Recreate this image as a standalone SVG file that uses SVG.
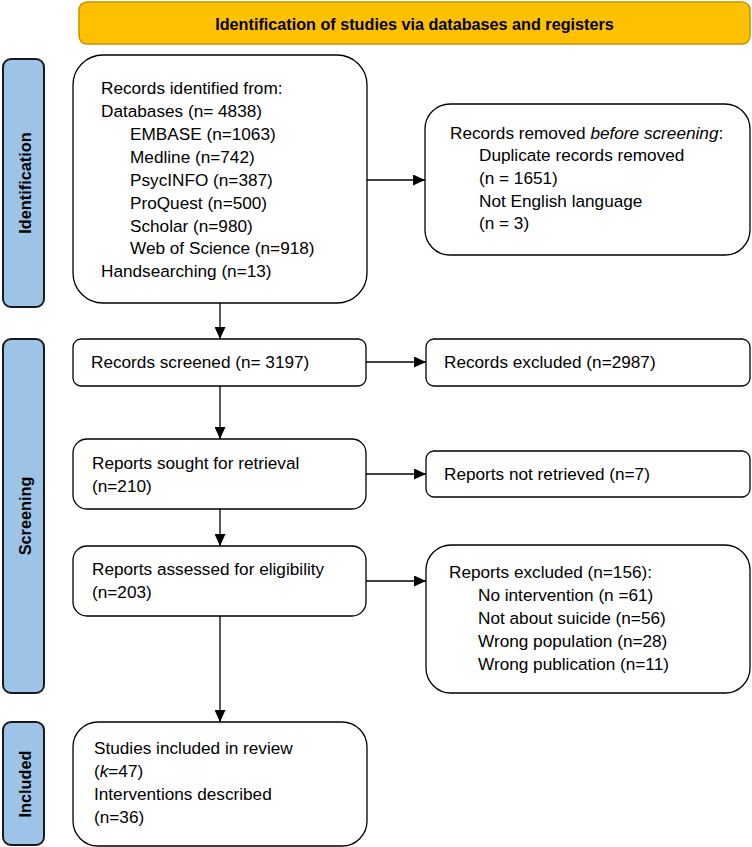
<svg xmlns="http://www.w3.org/2000/svg" width="752" height="847" viewBox="0 0 752 847">
<defs>
<marker id="ah" viewBox="0 0 12 11" refX="12" refY="5.5" markerWidth="12" markerHeight="11" markerUnits="userSpaceOnUse" orient="auto">
<path d="M0,0 L12,5.5 L0,11 Z" fill="#000"/>
</marker>
</defs>
<style>
text{font-family:"Liberation Sans",Arial,sans-serif;fill:#000}
.t{font-size:17.2px}
.hdr{font-size:16.2px;font-weight:bold}
.side{font-size:16.3px;font-weight:bold;text-anchor:middle}
.box{fill:#fff;stroke:#000;stroke-width:1.3}
.bar{fill:#9DC3E6;stroke:#1a1a1a;stroke-width:2}
.con{stroke:#000;stroke-width:1.3;fill:none;marker-end:url(#ah)}
</style>
<rect width="752" height="847" fill="#fff"/>

<g id="header">
<rect x="79" y="2" width="671" height="42" rx="8" fill="#FFC000" stroke="#C49300" stroke-width="1.5"/>
<text class="hdr" x="414.5" y="30" text-anchor="middle">Identification of studies via databases and registers</text>
</g>

<g id="phase-identification">
<rect class="bar" x="3" y="59" width="41" height="248" rx="8"/>
<text class="side" transform="translate(31,183) rotate(-90)">Identification</text>
</g>
<g id="phase-screening">
<rect class="bar" x="3" y="339" width="41" height="354" rx="8"/>
<text class="side" transform="translate(31,516) rotate(-90)">Screening</text>
</g>
<g id="phase-included">
<rect class="bar" x="3" y="722" width="41" height="123" rx="8"/>
<text class="side" transform="translate(31,784) rotate(-90)">Included</text>
</g>

<g id="connectors">
<line class="con" x1="367" y1="180" x2="425" y2="180"/>
<line class="con" x1="220" y1="303" x2="220" y2="339"/>
<line class="con" x1="366" y1="362" x2="426" y2="362"/>
<line class="con" x1="220" y1="386" x2="220" y2="439"/>
<line class="con" x1="366" y1="474" x2="426" y2="474"/>
<line class="con" x1="220" y1="509" x2="220" y2="546"/>
<line class="con" x1="366" y1="581" x2="426" y2="581"/>
<line class="con" x1="220" y1="616" x2="220" y2="722"/>
</g>

<g id="records-identified">
<rect class="box" x="73" y="55" width="294" height="248" rx="30"/>
<text class="t" x="101" y="94">Records identified from:</text>
<text class="t" x="101" y="117">Databases (n= 4838)</text>
<text class="t" x="130" y="140">EMBASE (n=1063)</text>
<text class="t" x="130" y="163">Medline (n=742)</text>
<text class="t" x="130" y="185.5">PsycINFO (n=387)</text>
<text class="t" x="130" y="208.5">ProQuest (n=500)</text>
<text class="t" x="130" y="231.5">Scholar (n=980)</text>
<text class="t" x="130" y="254">Web of Science (n=918)</text>
<text class="t" x="101" y="277">Handsearching (n=13)</text>
</g>

<g id="records-removed">
<rect class="box" x="425" y="104" width="325" height="151" rx="25"/>
<text class="t" x="450" y="139">Records removed <tspan font-style="italic">before screening</tspan>:</text>
<text class="t" x="479" y="161">Duplicate records removed</text>
<text class="t" x="479" y="183.5">(n = 1651)</text>
<text class="t" x="479" y="206.5">Not English language</text>
<text class="t" x="479" y="229">(n = 3)</text>
</g>

<g id="records-screened">
<rect class="box" x="73" y="339" width="293" height="47" rx="8"/>
<text class="t" x="91" y="368">Records screened (n= 3197)</text>
</g>

<g id="records-excluded">
<rect class="box" x="426" y="339" width="324" height="47" rx="8"/>
<text class="t" x="444" y="368">Records excluded (n=2987)</text>
</g>

<g id="reports-sought">
<rect class="box" x="73" y="439" width="293" height="70" rx="14"/>
<text class="t" x="92" y="469">Reports sought for retrieval</text>
<text class="t" x="92" y="492">(n=210)</text>
</g>

<g id="reports-not-retrieved">
<rect class="box" x="426" y="451" width="324" height="46" rx="8"/>
<text class="t" x="444" y="480">Reports not retrieved (n=7)</text>
</g>

<g id="reports-assessed">
<rect class="box" x="73" y="546" width="293" height="70" rx="14"/>
<text class="t" x="92" y="575">Reports assessed for eligibility</text>
<text class="t" x="92" y="598">(n=203)</text>
</g>

<g id="reports-excluded">
<rect class="box" x="426" y="545" width="324" height="148" rx="25"/>
<text class="t" x="449" y="578">Reports excluded (n=156):</text>
<text class="t" x="478" y="601">No intervention (n =61)</text>
<text class="t" x="478" y="624">Not about suicide (n=56)</text>
<text class="t" x="478" y="647">Wrong population (n=28)</text>
<text class="t" x="478" y="670">Wrong publication (n=11)</text>
</g>

<g id="studies-included">
<rect class="box" x="73" y="722" width="294" height="124" rx="25"/>
<text class="t" x="94" y="754">Studies included in review</text>
<text class="t" x="94" y="777">(<tspan font-style="italic">k</tspan>=47)</text>
<text class="t" x="94" y="800">Interventions described</text>
<text class="t" x="94" y="823">(n=36)</text>
</g>
</svg>
